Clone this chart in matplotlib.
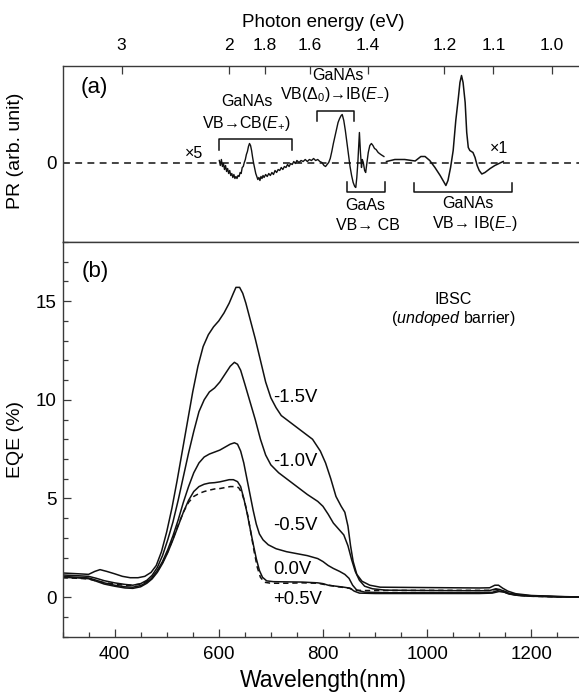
import matplotlib
matplotlib.use("Agg")
import matplotlib.pyplot as plt
from matplotlib.ticker import MultipleLocator, FixedLocator

plt.rcParams['font.family'] = ['Liberation Sans', 'DejaVu Sans']
plt.rcParams['mathtext.fontset'] = 'custom'
plt.rcParams['mathtext.rm'] = 'Liberation Sans'
plt.rcParams['mathtext.it'] = 'Liberation Sans:italic'

# ---------------- data ----------------
# PR spectrum (x5 segment), wavelength nm / arb. units
pr_x5_wl = [601, 603, 605, 607, 609, 611, 613, 615, 617, 619, 621, 623, 625, 627, 629, 631, 633, 635,
            637, 639, 641, 643, 645, 647, 649, 651, 653, 655, 657, 659, 661, 663, 665, 667, 669, 671,
            673, 675, 677, 679, 681, 683, 685, 687, 690, 693, 696, 699, 702, 705, 708, 711, 714, 717,
            720, 723, 726, 729, 732, 735, 738, 741, 744, 747, 750, 754, 758, 762, 766, 770, 774, 778,
            782, 786, 790, 794, 798, 802, 805, 808, 811, 814, 817, 820, 823, 826, 829, 832, 835, 837,
            840, 843, 846, 849, 852, 855, 858, 861, 863, 865, 867, 868.5, 870, 872, 874, 875.5, 877.5,
            880, 882, 884, 887, 890, 893, 896, 899, 902, 906, 911, 917]
pr_x5 = [2, -3, 3, -4, -1, -7, -3, -9, -6, -11, -8, -13, -11, -15, -12, -16, -14, -16,
         -13, -14, -10, -11, -5, -4, 0, 3, 8, 11, 16, 19, 17, 12, 5, -1, -6, -11,
         -14, -17, -15, -18, -14, -16, -13, -15, -12, -14, -11, -13, -10, -12, -8, -10, -7, -8,
         -5, -7, -4, -5, -2, -4, -1, -2, 1, -1, 2, 0, 2, 1, 3, 1, 3, 2,
         4, 2, 3, 1, 0, -3, -4, -2, 0, 4, 11, 19, 26, 33, 40, 44, 47, 48,
         42, 32, 20, 8, -4, -13, -20, -24, -25, -15, 0, 15, 30, 10, -5, 3, 0,
         -8, -10, -2, 10, 17, 19, 17, 14, 13, 10, 8, 6]
# PR spectrum (x1 segment)
pr_x1_wl = [922, 938, 957, 977, 988, 996, 1005, 1015, 1025, 1036, 1040, 1045, 1050, 1055, 1060,
            1063, 1066, 1069, 1073, 1076, 1079, 1082, 1088, 1092, 1096, 1100, 1105, 1111, 1121,
            1130, 1140, 1146]
pr_x1 = [1, 3, 3, 1.5, 6, 6, 2, -5, -13, -23, -18, -5, 12, 42, 65,
         80, 87, 80, 60, 30, 15, 12, 10, 5, -3, -8, -11.5, -10, -6,
         -3, -0.5, 1]

energy_ticks = [3, 2, 1.8, 1.6, 1.4, 1.2, 1.1, 1.0]
energy_labels = ['3', '2', '1.8', '1.6', '1.4', '1.2', '1.1', '1.0']

# EQE spectra (%)
wl_m15 = [300, 330, 350, 362, 372, 385, 400, 415, 430, 445, 458, 470, 480, 490, 500, 510, 520, 530,
          540, 550, 560, 570, 580, 590, 600, 610, 620, 628, 633, 640, 646, 652, 660, 670, 680, 690,
          700, 710, 720, 735, 750, 765, 780, 795, 805, 815, 825, 835, 842, 848, 853, 858, 865, 875,
          890, 910, 1000, 1100, 1120, 1130, 1137, 1145, 1155, 1170, 1200, 1250, 1300]
eqe_m15 = [1.22, 1.18, 1.15, 1.3, 1.39, 1.3, 1.18, 1.05, 0.98, 0.98, 1.05, 1.25, 1.6, 2.3, 3.3, 4.5,
           5.9, 7.4, 8.9, 10.4, 11.7, 12.7, 13.3, 13.7, 14.0, 14.4, 14.9, 15.4, 15.7, 15.7, 15.4, 14.9,
           14.1, 13.1, 12.0, 10.9, 10.1, 9.6, 9.2, 8.9, 8.6, 8.3, 8.0, 7.4, 6.8, 6.0, 5.1, 4.6, 4.3,
           3.6, 2.6, 1.8, 1.15, 0.8, 0.6, 0.5, 0.48, 0.46, 0.47, 0.6, 0.6, 0.45, 0.3, 0.17, 0.08,
           0.03, 0.0]

wl_m10 = [300, 330, 350, 365, 380, 400, 420, 435, 450, 462, 472, 482, 492, 502, 512, 522, 532, 542,
          552, 562, 572, 582, 592, 602, 612, 622, 630, 636, 642, 650, 660, 670, 680, 690, 700, 715,
          730, 750, 770, 790, 800, 810, 820, 830, 840, 848, 855, 862, 870, 880, 895, 920, 1000, 1100,
          1120, 1132, 1140, 1150, 1165, 1200, 1250, 1300]
eqe_m10 = [1.12, 1.08, 1.05, 0.95, 0.83, 0.72, 0.64, 0.6, 0.68, 0.85, 1.1, 1.5, 2.1, 2.9, 3.8, 4.9,
           6.1, 7.3, 8.4, 9.4, 10.0, 10.4, 10.6, 10.9, 11.3, 11.7, 11.9, 11.8, 11.5, 10.8, 9.9, 9.0,
           8.0, 7.2, 6.7, 6.3, 6.0, 5.6, 5.2, 4.85, 4.6, 4.2, 3.75, 3.45, 3.15, 2.6, 1.9, 1.3, 0.85,
           0.55, 0.42, 0.35, 0.33, 0.32, 0.33, 0.42, 0.38, 0.25, 0.14, 0.06, 0.02, 0.0]

wl_m05 = [300, 330, 350, 365, 380, 400, 420, 435, 450, 462, 472, 482, 492, 502, 512, 522, 532, 542,
          552, 562, 572, 582, 592, 602, 612, 622, 630, 636, 642, 648, 654, 660, 666, 672, 678, 685,
          695, 710, 730, 750, 770, 790, 800, 810, 820, 832, 842, 850, 857, 865, 880, 920, 1000, 1100,
          1125, 1135, 1145, 1155, 1170, 1200, 1250, 1300]
eqe_m05 = [1.05, 1.0, 0.97, 0.85, 0.72, 0.6, 0.52, 0.5, 0.58, 0.75, 0.98, 1.35, 1.8, 2.4, 3.1, 3.9,
           4.8, 5.6, 6.3, 6.8, 7.1, 7.25, 7.35, 7.45, 7.6, 7.75, 7.82, 7.75, 7.4, 6.8, 6.0, 5.2, 4.4,
           3.7, 3.2, 2.9, 2.65, 2.45, 2.3, 2.2, 2.1, 1.95, 1.8, 1.6, 1.45, 1.3, 1.15, 0.95, 0.6, 0.35,
           0.25, 0.22, 0.22, 0.22, 0.24, 0.32, 0.28, 0.18, 0.1, 0.05, 0.02, 0.0]

wl_0 = [300, 330, 350, 365, 380, 400, 420, 435, 450, 462, 472, 482, 492, 502, 512, 522, 532, 542,
        552, 562, 572, 582, 592, 602, 612, 620, 628, 636, 642, 648, 654, 660, 666, 672, 678, 684,
        692, 705, 730, 760, 790, 800, 810, 825, 840, 852, 860, 870, 900, 1000, 1100, 1125, 1138,
        1148, 1158, 1175, 1200, 1250, 1300]
eqe_0 = [1.0, 0.97, 0.93, 0.8, 0.66, 0.55, 0.46, 0.44, 0.52, 0.7, 0.92, 1.25, 1.7, 2.25, 2.9, 3.6,
         4.3, 4.9, 5.35, 5.6, 5.72, 5.78, 5.8, 5.84, 5.9, 5.95, 5.95, 5.85, 5.6, 5.0, 4.3, 3.5, 2.7,
         1.95, 1.35, 1.0, 0.82, 0.78, 0.77, 0.76, 0.72, 0.68, 0.6, 0.55, 0.5, 0.45, 0.3, 0.2, 0.18,
         0.18, 0.18, 0.2, 0.28, 0.25, 0.15, 0.08, 0.04, 0.01, 0.0]

wl_p05 = [300, 330, 350, 365, 380, 400, 420, 435, 450, 462, 472, 482, 492, 502, 512, 522, 532, 542,
          552, 562, 572, 582, 592, 602, 612, 622, 630, 638, 644, 650, 656, 662, 668, 674, 680, 688,
          700, 730, 760, 790, 810, 830, 850, 860, 880, 1000, 1100, 1120, 1132, 1145, 1160, 1180, 1200,
          1250, 1300]
eqe_p05 = [0.98, 0.95, 0.92, 0.82, 0.73, 0.66, 0.6, 0.6, 0.66, 0.8, 1.0, 1.3, 1.75, 2.3, 2.95, 3.65,
           4.3, 4.8, 5.1, 5.25, 5.35, 5.42, 5.48, 5.5, 5.55, 5.6, 5.6, 5.55, 5.3, 4.8, 4.1, 3.2, 2.3,
           1.5, 1.0, 0.75, 0.7, 0.7, 0.72, 0.7, 0.6, 0.52, 0.45, 0.35, 0.33, 0.34, 0.34, 0.34, 0.38,
           0.33, 0.18, 0.08, 0.04, 0.01, 0.0]

bias_labels = ['-1.5V', '-1.0V', '-0.5V', '0.0V', '+0.5V']
bias_label_y = [10.1, 6.88, 3.62, 1.42, -0.14]

# ---------------- figure ----------------
W, H = 579, 694
fig = plt.figure(figsize=(W / 100, H / 100), dpi=100)

left = 62.5 / W
width = (583.4 - 62.5) / W
top_a = 1 - 66 / H
bot_a = 1 - 242 / H
bot_b = 1 - 636.5 / H

axa = fig.add_axes([left, bot_a, width, top_a - bot_a])
axb = fig.add_axes([left, bot_b, width, bot_a - bot_b])

spine_c = '#3a3a3a'
for ax in (axa, axb):
    for s in ax.spines.values():
        s.set_color(spine_c)
        s.set_linewidth(1.0)
    ax.spines['right'].set_visible(False)

lc = '#111111'
# ---- panel (a) ----
axa.set_xlim(300, 1300)
axa.set_ylim(-79.5, 96.5)
axa.axhline(0, color=lc, lw=1.1, ls=(0, (4.5, 3.5)))
axa.plot(pr_x5_wl, pr_x5, color=lc, lw=1.0)
axa.plot(pr_x1_wl, pr_x1, color=lc, lw=1.1)
axa.xaxis.tick_top()
axa.set_xticks([1239.84 / e for e in energy_ticks])
axa.set_xticklabels(energy_labels)
axa.tick_params(axis='x', which='major', direction='in', length=6, width=0.9,
                color=spine_c, labelsize=12.5, pad=9, top=True, bottom=False)
axa.set_xlabel('Photon energy (eV)', fontsize=13.5, labelpad=8)
axa.xaxis.set_label_position('top')
axa.set_yticks([0])
axa.set_yticklabels(['0'])
axa.tick_params(axis='y', length=0, labelsize=13.5, pad=4)
axa.set_ylabel('PR (arb. unit)', fontsize=14, labelpad=10)
axa.yaxis.set_label_coords(-0.073, 0.52)

axa.text(362, 74.5, '(a)', fontsize=16, ha='center', va='center')
axa.text(552, 8.5, '×5', fontsize=11.5, ha='center', va='center')
axa.text(1138, 14.2, '×1', fontsize=11.5, ha='center', va='center')

brk = dict(color=lc, lw=1.1)
# bracket spans: (x0, x1, bar y, leg y)
brackets = [(601, 741, 23.5, 12.5), (788, 860, 51.8, 41.8),
            (846, 919, -29.2, -19.2), (975, 1162, -29.2, -20.2)]
for x0, x1, yb, yl in brackets:
    axa.plot([x0, x0, x1, x1], [yl, yb, yb, yl], **brk)

fs_ann = 11.5
axa.text(654, 60.8, 'GaNAs', fontsize=fs_ann, ha='center', va='center')
axa.text(654, 39.2, r'VB→CB($E_{+}$)', fontsize=fs_ann, ha='center', va='center')
axa.text(829, 87.5, 'GaNAs', fontsize=fs_ann, ha='center', va='center')
axa.text(823, 67.5, r'VB($\Delta_0$)→IB($E_{-}$)', fontsize=fs_ann, ha='center', va='center')
axa.text(881, -42.5, 'GaAs', fontsize=fs_ann, ha='center', va='center')
axa.text(887, -63.2, 'VB→ CB', fontsize=fs_ann, ha='center', va='center')
axa.text(1079, -41.5, 'GaNAs', fontsize=fs_ann, ha='center', va='center')
axa.text(1092, -60.8, r'VB→ IB($E_{-}$)', fontsize=fs_ann, ha='center', va='center')

# ---- panel (b) ----
axb.set_xlim(300, 1300)
axb.set_ylim(-2, 18)
for wl, eq in [(wl_m15, eqe_m15), (wl_m10, eqe_m10), (wl_m05, eqe_m05), (wl_0, eqe_0)]:
    axb.plot(wl, eq, color=lc, lw=1.1)
axb.plot(wl_p05, eqe_p05, color=lc, lw=1.1, ls=(0, (3.5, 2.5)))

axb.xaxis.set_major_locator(FixedLocator([400, 600, 800, 1000, 1200]))
axb.xaxis.set_minor_locator(MultipleLocator(50))
axb.yaxis.set_major_locator(FixedLocator([0, 5, 10, 15]))
axb.yaxis.set_minor_locator(MultipleLocator(1))
axb.tick_params(which='both', direction='in', color=spine_c, width=0.9, top=False, right=False)
axb.tick_params(which='major', length=6, labelsize=13.5)
axb.tick_params(axis='x', which='major', pad=7)
axb.tick_params(axis='y', which='major', pad=4)
axb.tick_params(which='minor', length=3.5)
axb.set_xlabel('Wavelength(nm)', fontsize=16.5, labelpad=4)
axb.set_ylabel('EQE (%)', fontsize=14, labelpad=10)
axb.yaxis.set_label_coords(-0.073, 0.5)

axb.text(362, 16.5, '(b)', fontsize=16, ha='center', va='center')
axb.text(1050, 15.1, 'IBSC', fontsize=11.5, ha='center', va='center')
axb.text(1050, 14.13, r'($\mathit{undoped}$ barrier)', fontsize=11.5, ha='center', va='center')
for lab, yv in zip(bias_labels, bias_label_y):
    axb.text(705, yv, lab, fontsize=13.3, ha='left', va='center')

fig.savefig('out.png', dpi=100)
